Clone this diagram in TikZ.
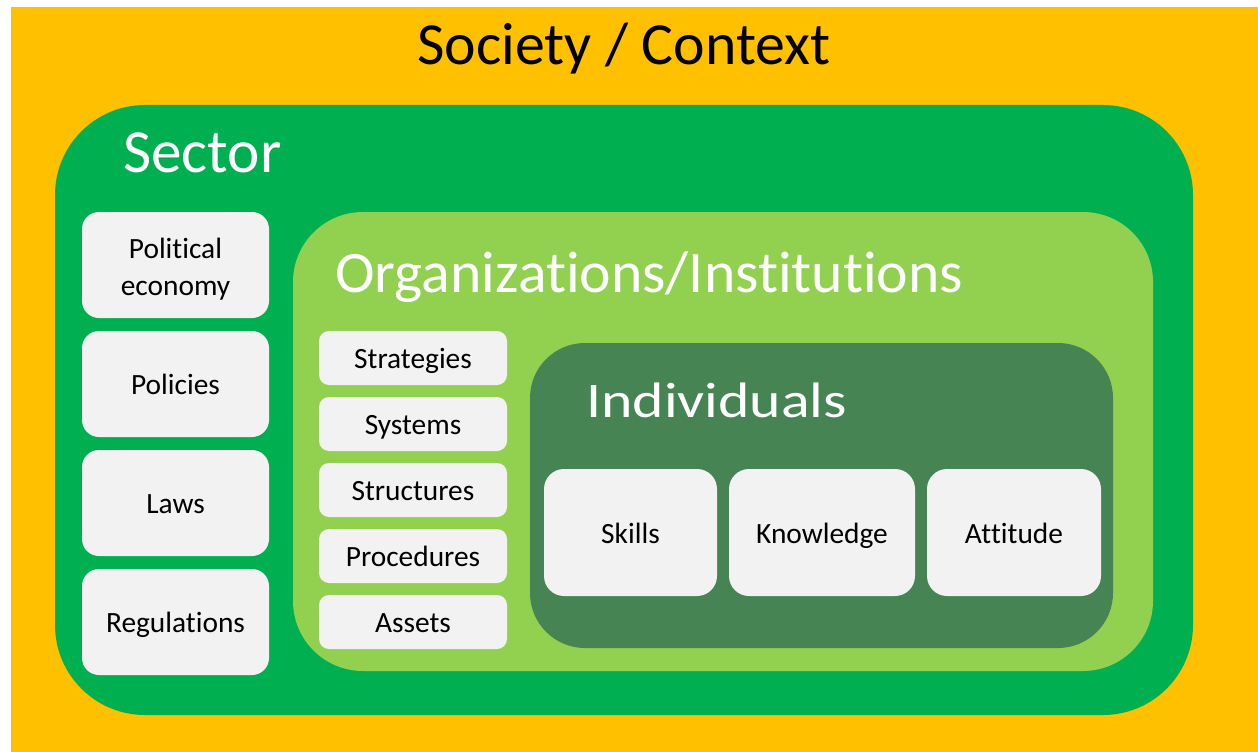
\documentclass[tikz,border=0pt]{standalone}
\usepackage{fontspec}
\setmainfont{Carlito}[RawFeature={-liga;-clig;-calt;-dlig}]
\newcommand\nolig{\kern0pt}
\definecolor{societyc}{HTML}{FFC000}
\definecolor{sectorc}{HTML}{00B050}
\definecolor{orgc}{HTML}{92D050}
\definecolor{indc}{HTML}{468453}
\definecolor{boxc}{HTML}{F2F2F2}
\begin{document}
\begin{tikzpicture}[x=1bp,y=-1bp,
  panel/.style={draw=none, inner sep=0pt, outer sep=0pt, anchor=north west},
  itembox/.style={panel, fill=boxc, text=black, align=center, font=\fontsize{29.5}{37.5}\selectfont},
  oneline/.style={text height=28bp, text depth=7bp},
  bigtitle/.style={inner sep=0pt, font=\fontsize{60}{60}\selectfont},
  sectorbox/.style={itembox, minimum width=187bp, minimum height=106bp, rounded corners=17bp},
  orgbox/.style={itembox, oneline, minimum width=188bp, minimum height=54bp, rounded corners=10bp},
  indbox/.style={itembox, oneline, minimum height=127bp, rounded corners=20bp}]
\useasboundingbox (0,0) rectangle (1258,752);
\fill[white] (0,0) rectangle (1258,752);
\node[panel, fill=societyc, minimum width=1247bp, minimum height=745bp] (society) at (11,7) {};
\node[panel, fill=sectorc, minimum width=1138bp, minimum height=610bp, rounded corners=90bp] (sector) at (55,105) {};
\node[panel, fill=orgc, minimum width=860bp, minimum height=459bp, rounded corners=70bp] (org) at (293,212) {};
\node[panel, fill=indc, minimum width=583bp, minimum height=305bp, rounded corners=55bp] (ind) at (530,343) {};

\node[bigtitle, anchor=base, text=black] (societyt) at (624,65) {Society / Context};
\node[bigtitle, anchor=base west, text=white, font=\fontsize{61.5}{62}\selectfont] (sectort) at (123,172) {Sector};
\node[bigtitle, anchor=base west, text=white, font=\fontsize{59}{60}\selectfont] (orgt) at (335,292) {\scalebox{1.016}[1]{Organizat\nolig ions/Inst\nolig it\nolig ut\nolig ions}};
\node[bigtitle, anchor=base west, text=white, font=\fontsize{50}{50}\selectfont] (indt) at (586,417) {\scalebox{1.2}[1]{Individuals}};

\node[sectorbox] (pe) at (82,212) {\rule{0pt}{29bp}Polit\nolig ical\\economy};
\node[sectorbox, oneline] (pol) at (82,331) {Policies};
\node[sectorbox, oneline] (laws) at (82,450) {Laws};
\node[sectorbox, oneline] (reg) at (82,569) {Regulat\nolig ions};

\node[orgbox] (strat) at (319,331) {Strategies};
\node[orgbox] (sys) at (319,397) {Systems};
\node[orgbox] (struct) at (319,463) {Structures};
\node[orgbox] (proc) at (319,529) {Procedures};
\node[orgbox] (assets) at (319,595) {Assets};

\node[indbox, minimum width=173bp] (skills) at (544,469) {Skills};
\node[indbox, minimum width=186bp] (know) at (729,469) {Knowledge};
\node[indbox, minimum width=174bp] (att) at (927,469) {At\nolig t\nolig it\nolig ude};
\end{tikzpicture}
\end{document}
